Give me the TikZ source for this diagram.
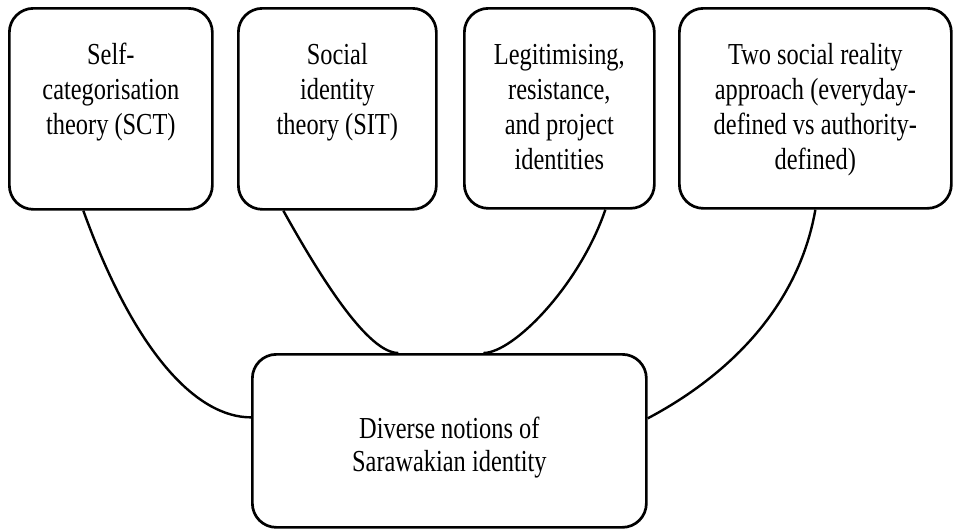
\documentclass[tikz,border=0pt]{standalone}
\usepackage{fontspec}
\setmainfont{Liberation Serif}[FakeStretch=0.8]
\begin{document}
\begin{tikzpicture}[x=1pt,y=-1pt,
  box/.style={draw, line width=2.7pt, rounded corners=24pt, inner sep=0pt,
    align=flush center, anchor=north west,
    font=\fontsize{30.5}{35}\selectfont},
  conn/.style={line width=2.4pt}]
\useasboundingbox (0,0) rectangle (955,528);
\node[box, text width=203pt, text height=56pt, text depth=145pt] (b1) at (8,7)
  {Self-\\categorisation\\theory (SCT)};
\node[box, text width=198pt, text height=56pt, text depth=145pt] (b2) at (237,7)
  {Social\\identity\\theory (SIT)};
\node[box, text width=190pt, text height=56pt, text depth=144pt] (b3) at (463,7)
  {Legitimising,\\resistance,\\and project\\identities};
\node[box, text width=272pt, text height=56pt, text depth=144pt] (b4) at (678,7)
  {Two social reality\\approach (everyday-\\defined vs authority-\\defined)};
\node[box, text width=394pt, text height=84pt, text depth=89pt,
  font=\fontsize{30.5}{33}\selectfont] (bb) at (251,353)
  {Diverse notions of\\Sarawakian identity};
\draw[conn] ([xshift=-27.5pt]b1.south) .. controls +(51,141) and +(-55,0) .. ([yshift=23.5pt]bb.west);
\draw[conn] ([xshift=-54pt]b2.south) .. controls +(39,70) and +(-30,0) .. ([xshift=-51pt]bb.north);
\draw[conn] ([xshift=46pt]b3.south) .. controls +(-26,76) and +(30,0) .. ([xshift=34pt]bb.north);
\draw[conn] (b4.south) .. controls +(-17,98) and +(79.5,-42) .. ([yshift=22.5pt]bb.east);
\end{tikzpicture}
\end{document}
